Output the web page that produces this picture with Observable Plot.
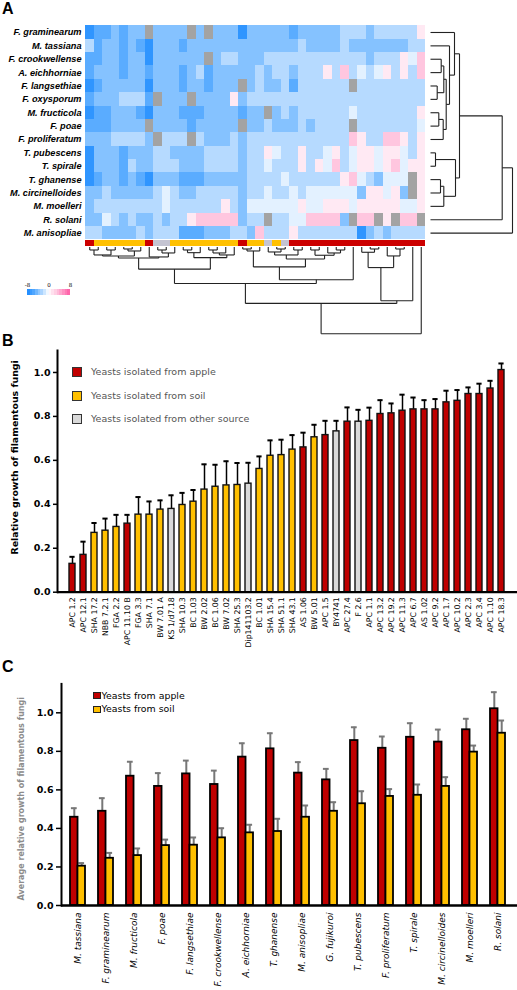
<!DOCTYPE html>
<html>
<head>
<meta charset="utf-8">
<script src="https://cdn.jsdelivr.net/npm/d3@7"></script>
<script src="https://cdn.jsdelivr.net/npm/@observablehq/plot@0.6"></script>
<style>
  html,body{margin:0;padding:0;background:#fff;}
  #root{position:relative;width:517px;height:990px;overflow:hidden;background:#fff;}
  #root svg{position:absolute;left:0;overflow:visible;}
  .plab{position:absolute;font:bold 16px "Liberation Sans",Arial,sans-serif;line-height:16px;color:#000;}
  .lg{position:absolute;white-space:nowrap;font-family:"DejaVu Sans",sans-serif;}
  .sw{position:absolute;box-sizing:border-box;}
</style>
</head>
<body>
<div id="root"></div>
<script>
// ================= DATA =================
// ---- Panel A: heatmap ----
const fungiRows = ["F. graminearum","M. tassiana","F. crookwellense","A. eichhorniae","F. langsethiae","F. oxysporum","M. fructicola","F. poae","F. proliferatum","T. pubescens","T. spirale","T. ghanense","M. circinelloides","M. moelleri","R. solani","M. anisopliae"];
const heatValues = [
  [-7,-5,-5,-4,-5,-4,-4,null,-4,-4,-4,-4,null,-4,null,-4,-4,-4,-7,-4,-4,-4,-4,-4,-5,-4,-4,-4,-4,-4,-2,-2,-2,-4,-2,-2,-2,-2,-2,1],
  [-2,-5,-4,-4,-5,-4,-5,-7,-4,-4,-4,-5,-4,-4,-4,-4,-4,-4,-4,-4,-4,-4,-4,-4,-4,-2,-4,-4,-4,-4,-2,-4,-4,-4,-4,-4,-4,-4,-2,-2],
  [-5,-5,-4,-4,-5,-4,-4,-7,-4,-4,-4,-4,-4,-4,null,-4,-2,-2,-4,-4,-4,-2,-2,-2,-2,-2,-2,-2,-2,-2,-2,-2,-2,-4,-2,-2,-2,1,-1,3],
  [-5,-4,-4,-4,-5,-4,-4,-5,-4,-4,-4,-5,-4,-2,-5,-4,-4,-4,-4,-4,-2,-4,-2,-2,-4,-2,-2,-2,1,-2,3,-2,-1,-2,-1,1,-2,1,-2,3],
  [-7,-5,-4,-4,-4,-4,-4,-7,-4,-4,-4,-5,-4,-4,-5,-4,-4,-4,null,-4,-2,-4,-4,-2,-5,-2,-2,-2,-2,-2,-2,null,-2,-2,-2,-2,-2,-2,-2,-2],
  [-5,-4,-4,-4,-2,-2,-2,-5,null,-4,-4,-4,null,-4,-4,-4,-4,1,-4,-2,-2,-2,-2,-2,-2,-2,-2,-2,-2,-2,-2,-2,-2,-2,-2,-2,-2,-2,-2,-2],
  [-7,-5,-5,-4,-4,-4,-5,-7,-4,-4,-4,-5,-5,-5,-4,-4,-4,-4,-5,-4,-4,null,-4,-2,-4,-2,-2,-2,-2,-2,-2,-1,-2,-2,-2,-2,-2,-2,-2,1],
  [-5,-5,-5,-4,-4,-4,-4,null,-4,-4,-4,-4,-5,-4,-4,-4,-4,-4,null,-4,-4,-2,-4,-4,-4,-2,-4,-2,-2,-2,-2,null,-2,-2,-2,-2,-2,-2,-2,-1],
  [-4,-4,-4,-2,-2,-2,-2,-4,null,-2,-2,-2,null,-2,-4,-4,-4,-2,-4,-2,-2,-2,-2,-2,-2,-2,-2,-2,-2,-2,-2,3,1,-2,-2,3,3,1,-2,1],
  [-7,-4,-4,-4,-5,-4,-4,-4,-2,-2,-4,-4,-4,-4,-2,-2,-2,-2,-4,-2,-2,1,-1,-2,-2,1,-2,-2,-1,1,-2,-1,1,1,-1,1,1,-1,-2,1],
  [-7,-4,-4,-4,-5,-2,-4,-4,-2,-2,-2,-4,-4,-4,-2,-2,-2,-2,-4,-2,-2,-1,-2,-2,-2,1,-2,1,-1,3,-2,-1,1,1,-1,1,3,-1,1,1],
  [-7,-5,-4,-4,-5,-4,-5,-7,-4,-4,-4,-5,-5,-5,-4,-4,-4,-4,-4,-2,-2,-2,-2,-1,-2,-2,-2,-2,-2,-2,1,3,-1,-2,-4,-1,-1,-1,null,1],
  [-4,-4,-2,-4,-4,-4,-4,-4,-2,-1,-2,-4,-4,-2,-2,-2,-2,-2,-4,-2,-2,-1,-2,-2,-1,-2,-1,-1,-1,-1,-1,-1,-4,1,1,-1,1,-4,null,1],
  [-4,-2,-2,-2,-2,-2,-2,-2,-2,-1,-2,-2,-2,-2,-2,-2,1,-2,-4,-1,-1,-1,-1,-1,-1,1,-1,-1,1,1,1,-1,1,1,1,1,1,-1,-1,1],
  [-4,-4,-1,-2,-4,-2,-4,-4,-2,-4,-2,-2,1,3,3,3,3,3,-4,-2,-2,null,-2,-2,-1,-1,3,3,3,3,-4,null,3,3,null,1,null,3,3,null],
  [-2,-2,-4,-4,-4,-4,-2,-4,-2,-2,-2,-5,-5,-5,-4,-4,-4,-2,-2,-4,3,-2,-2,-2,1,-2,-2,-2,-2,-2,-2,-2,-7,-4,-2,-4,-2,-2,-2,-2]
];
const columnSource = ["apple","soil","soil","soil","soil","soil","soil","apple","other","other",
  "soil","soil","soil","soil","soil","soil","soil","soil","apple","soil",
  "soil","other","soil","other","apple","apple","apple","apple","apple","apple",
  "apple","apple","apple","apple","apple","apple","apple","apple","apple","apple"];
// dendrograms: [mergeHeight, left, right]; leaves are column / row indices
const columnTree =
[87.3,
  [56.7,
    [36.7,
      [22.3,
        [11, [9, [8, [3,0,1], [3,2,3]], [4, [2,4,5], 6]], [10, 7, [6, [3,8,9], 10]]],
        [10.7, [5.7, [3,11,12], 13], [8, [6, [3,14,15], 16], 17]]
      ],
      [33,
        [20, [4, [2,18,19], 20], [12, [8, [5,21,[2,22,23]], [3,24,25]], [8.3, [3,26,27], [6,28,[3,29,30]]]]],
        31
      ]
    ],
    [54, [20.7, [5.3, 32, [2,33,34]], [9, 35, [2,36,37]]], 38]
  ],
  39
];
const rowTree =
[82,
  [71.7,
    [29,
      [24, 0, [19, 1, [15.7, [13.3, [10.7,2,3], [6.7,4,5]], [12.7, [8.3,6,7], 8]]]],
      [25, [5,9,10], [13.3, [10,11,12], 13]]
    ],
    14
  ],
  15
];
const heatLegendSteps = [-8,-7,-6,-5,-4,-3,-2,-1,0,1,2,3,4,5,6,7];
const heatLegendTicks = [-8,0,8];

// ---- Panel B ----
const yeastNames = ["APC 1.2","APC 12.1","SHA 17.2","NBB 7.2.1","FGA 2.2","APC 11.10 B","FGA 3.3","SHA 7.1","BW 7.01 A","KS 1/d7.18","SHA 10.3","BC 1.03","BW 2.02","BC 1.06","BW 7.02","SHA 25.3","Dip141103.2","BC 1.01","SHA 15.4","SHA 51.1","SHA 43.1","AS 1.06","BW 5.01","APC 1.5","BY4741","APC 27.4","F 2.6","APC 1.1","APC 13.2","APC 19.2","APC 11.3","APC 6.7","AS 1.02","APC 9.2","APC 1.7","APC 10.2","APC 2.3","APC 3.4","APC 1.10","APC 18.3"];
const yeastGrowth = [0.129,0.17,0.27,0.28,0.297,0.312,0.353,0.353,0.376,0.379,0.397,0.412,0.467,0.48,0.486,0.488,0.494,0.561,0.621,0.624,0.649,0.659,0.705,0.715,0.732,0.776,0.776,0.78,0.811,0.814,0.826,0.832,0.832,0.832,0.864,0.871,0.902,0.902,0.927,1.011];
const yeastSEM = [0.032,0.06,0.045,0.055,0.055,0.04,0.08,0.06,0.042,0.062,0.055,0.053,0.115,0.1,0.11,0.1,0.095,0.057,0.07,0.07,0.066,0.067,0.057,0.065,0.048,0.065,0.054,0.06,0.063,0.045,0.073,0.054,0.042,0.047,0.053,0.049,0.03,0.047,0.035,0.03];
const yeastSource = ["apple","apple","soil","soil","soil","apple","soil","soil","soil","other",
  "soil","soil","soil","soil","soil","soil","other","soil","soil","soil",
  "soil","apple","soil","apple","other","apple","other","apple","apple","apple",
  "apple","apple","apple","apple","apple","apple","apple","apple","apple","apple"];
const sourceKeys = ["apple","soil","other"];
const legendLabelsB = ["Yeasts isolated from apple","Yeasts isolated from soil","Yeasts isolated from other source"];
const yTicks = [0,0.2,0.4,0.6,0.8,1.0];

// ---- Panel C ----
const fungiC = ["M. tassiana","F. graminearum","M. fructicola","F. poae","F. langsethiae","F. crookwellense","A. eichhorniae","T. ghanense","M. anisopliae","G. fujikuroi","T. pubescens","F. proliferatum","T. spirale","M. circinelloides","M. moelleri","R. solani"];
const appleMean = [0.458,0.489,0.671,0.618,0.683,0.628,0.77,0.813,0.687,0.652,0.856,0.816,0.873,0.848,0.912,1.021];
const appleSEM  = [0.047,0.068,0.075,0.069,0.069,0.072,0.072,0.081,0.057,0.057,0.069,0.061,0.073,0.065,0.057,0.086];
const soilMean  = [0.204,0.245,0.259,0.311,0.313,0.351,0.377,0.384,0.458,0.489,0.528,0.566,0.572,0.618,0.796,0.894];
const soilSEM   = [0.016,0.028,0.037,0.031,0.04,0.05,0.042,0.066,0.061,0.047,0.065,0.038,0.056,0.048,0.034,0.066];
const legendLabelsC = ["Yeasts from apple","Yeasts from soil"];

// ================= STYLE =================
const W = 517;
const RED = "#c00000", YEL = "#ffc000", GRY = "#d9d9d9";
const barColors = {apple: RED, soil: YEL, other: GRY};
const stripColors = {apple: "#cc0000", soil: "#ffc000", other: "#c4c4d2"};
const heatColor = {type: "linear",
  domain: [-8,-7,-5,-4,-2,-1,0,1,3,8],
  range: ["#1a88ff","#2f95ff","#5aacff","#85c2ff","#b6daff","#e3f1ff","#ffffff","#ffe9f3","#ffc6df","#ff5aa5"]};
const root = document.getElementById("root");
function place(svg, top) { svg.style.top = top + "px"; root.appendChild(svg); }

function treeSegments(tree, leafPos) {
  const segs = [];
  (function walk(n) {
    if (typeof n === "number") return {p: leafPos(n), h: 0};
    const [h, a, b] = n;
    const A = walk(a), B = walk(b);
    segs.push({p1: A.p, h1: A.h, p2: A.p, h2: h});
    segs.push({p1: B.p, h1: B.h, p2: B.p, h2: h});
    segs.push({p1: A.p, h1: h, p2: B.p, h2: h});
    return {p: (A.p + B.p) / 2, h};
  })(tree);
  return segs;
}

// ================= PANEL A =================
const cells = heatValues.flatMap((row, r) => row.map((v, c) => ({r, c, v})));
const strip = columnSource.map((s, c) => ({s, c}));
const heatX = {domain: [0, columnSource.length], range: [85, 425], axis: null};
const heatY = {domain: [0, fungiRows.length], range: [25.3, 239.3], axis: null};

const heat = Plot.plot({
  width: W, height: 320, margin: 0,
  style: {background: "transparent", overflow: "visible"},
  x: heatX, y: heatY, color: heatColor,
  marks: [
    Plot.rect(cells, {filter: d => d.v != null, x1: "c", x2: d => d.c + 1, y1: "r", y2: d => d.r + 1, fill: "v", shapeRendering: "crispEdges"}),
    Plot.rect(cells, {filter: d => d.v == null, x1: "c", x2: d => d.c + 1, y1: "r", y2: d => d.r + 1, fill: "#a3a3a3", shapeRendering: "crispEdges"}),
    ...sourceKeys.map(k => Plot.rect(strip, {filter: d => d.s === k, x1: "c", x2: d => d.c + 1, y1: 16.07, y2: 16.47, fill: stripColors[k], shapeRendering: "crispEdges"})),
    Plot.text(fungiRows, {x: 0, y: (d, i) => i + 0.5, dx: -4, textAnchor: "end", fontFamily: "Liberation Sans, Arial, sans-serif", fontStyle: "italic", fontWeight: "bold", fontSize: 9.2, fill: "#000"})
  ]
});
place(heat, 0);

const colSegs = treeSegments(columnTree, c => c + 0.5);
const colDendro = Plot.plot({
  width: W, height: 340, margin: 0,
  style: {background: "transparent", overflow: "visible"},
  x: heatX,
  y: {domain: [0, columnTree[0]], range: [246.5, 333.3], axis: null},
  marks: [Plot.link(colSegs, {x1: "p1", y1: "h1", x2: "p2", y2: "h2", stroke: "#222", strokeWidth: 1.1})]
});
place(colDendro, 0);

const rowSegs = treeSegments(rowTree, r => r + 0.5);
const rowDendro = Plot.plot({
  width: W, height: 250, margin: 0,
  style: {background: "transparent", overflow: "visible"},
  x: {domain: [0, rowTree[0]], range: [430, 512], axis: null},
  y: heatY,
  marks: [Plot.link(rowSegs, {x1: "h1", y1: "p1", x2: "h2", y2: "p2", stroke: "#222", strokeWidth: 1.1})]
});
place(rowDendro, 0);

const heatLegend = Plot.plot({
  width: W, height: 300, margin: 0,
  style: {background: "transparent", overflow: "visible"},
  x: {domain: [-8, 8], range: [27, 70], axis: null},
  y: {domain: [0, 1], range: [295, 288.6], axis: null},
  color: heatColor,
  marks: [
    Plot.rect(heatLegendSteps, {x1: d => d, x2: d => d + 1, y1: 0, y2: 1, fill: d => d + 0.5, shapeRendering: "crispEdges"}),
    Plot.text(heatLegendTicks, {x: d => d, y: 1, dy: -3.5, text: d => String(d), fontSize: 5.5, fontFamily: "DejaVu Sans", fill: "#000"})
  ]
});
place(heatLegend, 0);

// ================= PANEL B =================
const bData = yeastNames.map((name, i) => ({name, v: yeastGrowth[i], e: yeastSEM[i], src: yeastSource[i]}));
const panelB = Plot.plot({
  width: W, height: 340,
  marginLeft: 57, marginRight: 0, marginTop: 30, marginBottom: 68.3,
  style: {background: "transparent", fontFamily: "DejaVu Sans, sans-serif", overflow: "visible"},
  x: {domain: yeastNames, range: [59, 514.4], paddingInner: 0.42, paddingOuter: 0.21, label: null},
  y: {domain: [0, 1.1], range: [271.7, 30], label: null},
  color: {domain: sourceKeys, range: sourceKeys.map(k => barColors[k])},
  marks: [
    Plot.ruleX(bData, {x: "name", y1: "v", y2: d => d.v + d.e, stroke: "#000", strokeWidth: 1.5}),
    Plot.tickY(bData, {x: "name", y: d => d.v + d.e, insetLeft: 0.4, insetRight: 0.4, stroke: "#000", strokeWidth: 2}),
    Plot.barY(bData, {x: "name", y: "v", fill: "src", stroke: "#111", strokeWidth: 1.4}),
    Plot.ruleY([0], {stroke: "#000", strokeWidth: 2.2}),
    Plot.frame({anchor: "left", stroke: "#000", strokeWidth: 2}),
    Plot.axisY({ticks: yTicks, tickFormat: ".1f", tickSize: 4, tickPadding: 3, fontWeight: "bold", fontSize: 9.5, stroke: "#000", strokeWidth: 1.5, label: null}),
    Plot.axisX({tickRotate: -90, tickSize: 0, tickPadding: 5, fontSize: 7.8, fill: "#000", label: null}),
    Plot.text(["Relative growth of filamentous fungi"], {frameAnchor: "left", rotate: -90, dx: -43, dy: -14, textAnchor: "middle", fontWeight: "bold", fontSize: 9.4, fill: "#000"})
  ]
});
place(panelB, 320);

// ================= PANEL C =================
const cData = fungiC.map((s, i) => ({s, a: appleMean[i], ae: appleSEM[i], so: soilMean[i], se: soilSEM[i]}));
const errGray = "#777";
const panelC = Plot.plot({
  width: W, height: 335,
  marginLeft: 61, marginRight: 0, marginTop: 28.4, marginBottom: 85,
  style: {background: "transparent", fontFamily: "DejaVu Sans, sans-serif", overflow: "visible"},
  x: {domain: fungiC, range: [62.4, 513.1], paddingInner: 0.47, paddingOuter: 0.235, label: null},
  y: {domain: [0, 1.15], range: [250, 28.4], label: null},
  marks: [
    Plot.ruleX(cData, {x: "s", y1: "a", y2: d => d.a + d.ae, dx: -3.7, stroke: errGray, strokeWidth: 2}),
    Plot.tickY(cData, {x: "s", y: d => d.a + d.ae, dx: -3.7, insetLeft: 4.6, insetRight: 4.6, stroke: errGray, strokeWidth: 2}),
    Plot.ruleX(cData, {x: "s", y1: "so", y2: d => d.so + d.se, dx: 3.7, stroke: errGray, strokeWidth: 2}),
    Plot.tickY(cData, {x: "s", y: d => d.so + d.se, dx: 3.7, insetLeft: 4.6, insetRight: 4.6, stroke: errGray, strokeWidth: 2}),
    Plot.barY(cData, {x: "s", y: "a", insetRight: 7.46, fill: RED, stroke: "#000", strokeWidth: 1.8}),
    Plot.barY(cData, {x: "s", y: "so", insetLeft: 7.46, fill: YEL, stroke: "#000", strokeWidth: 1.8}),
    Plot.ruleY([0], {stroke: "#000", strokeWidth: 2.5}),
    Plot.frame({anchor: "left", stroke: "#000", strokeWidth: 2}),
    Plot.axisY({ticks: yTicks, tickFormat: ".1f", tickSize: 5, tickPadding: 3, fontWeight: "bold", fontSize: 9.5, stroke: "#000", strokeWidth: 1.5, label: null}),
    Plot.axisX({tickRotate: -90, tickSize: 0, tickPadding: 7, fontSize: 9, fontStyle: "italic", fill: "#000", label: null}),
    Plot.text(["Average relative growth of filamentous fungi"], {frameAnchor: "left", rotate: -90, dx: -40, dy: 4, textAnchor: "middle", fontWeight: "bold", fontSize: 8, fill: "#8c8c8c"})
  ]
});
place(panelC, 655);

// ================= HTML overlays: panel letters and legends =================
function addDiv(cls, css, text) {
  const d = document.createElement("div");
  d.className = cls; d.style.cssText = css;
  if (text != null) d.textContent = text;
  root.appendChild(d);
}
addDiv("plab", "left:2px;top:1px;", "A");
addDiv("plab", "left:2px;top:333px;", "B");
addDiv("plab", "left:2px;top:659px;", "C");

legendLabelsB.forEach((lab, i) => {
  const cy = 372 + 23.5 * i;
  addDiv("sw", `left:72px;top:${cy - 5}px;width:10px;height:10px;background:${barColors[sourceKeys[i]]};border:1px solid #333;`);
  addDiv("lg", `left:91px;top:${cy - 6}px;font-size:9.5px;line-height:12px;color:#555;`, lab);
});
legendLabelsC.forEach((lab, i) => {
  const cy = 695.5 + 13.8 * i;
  addDiv("sw", `left:93px;top:${cy - 3.7}px;width:7.5px;height:7.5px;background:${[RED, YEL][i]};border:1px solid #222;`);
  addDiv("lg", `left:101.5px;top:${cy - 6}px;font-size:9.4px;line-height:12px;color:#000;`, lab);
});
</script>
</body>
</html>
